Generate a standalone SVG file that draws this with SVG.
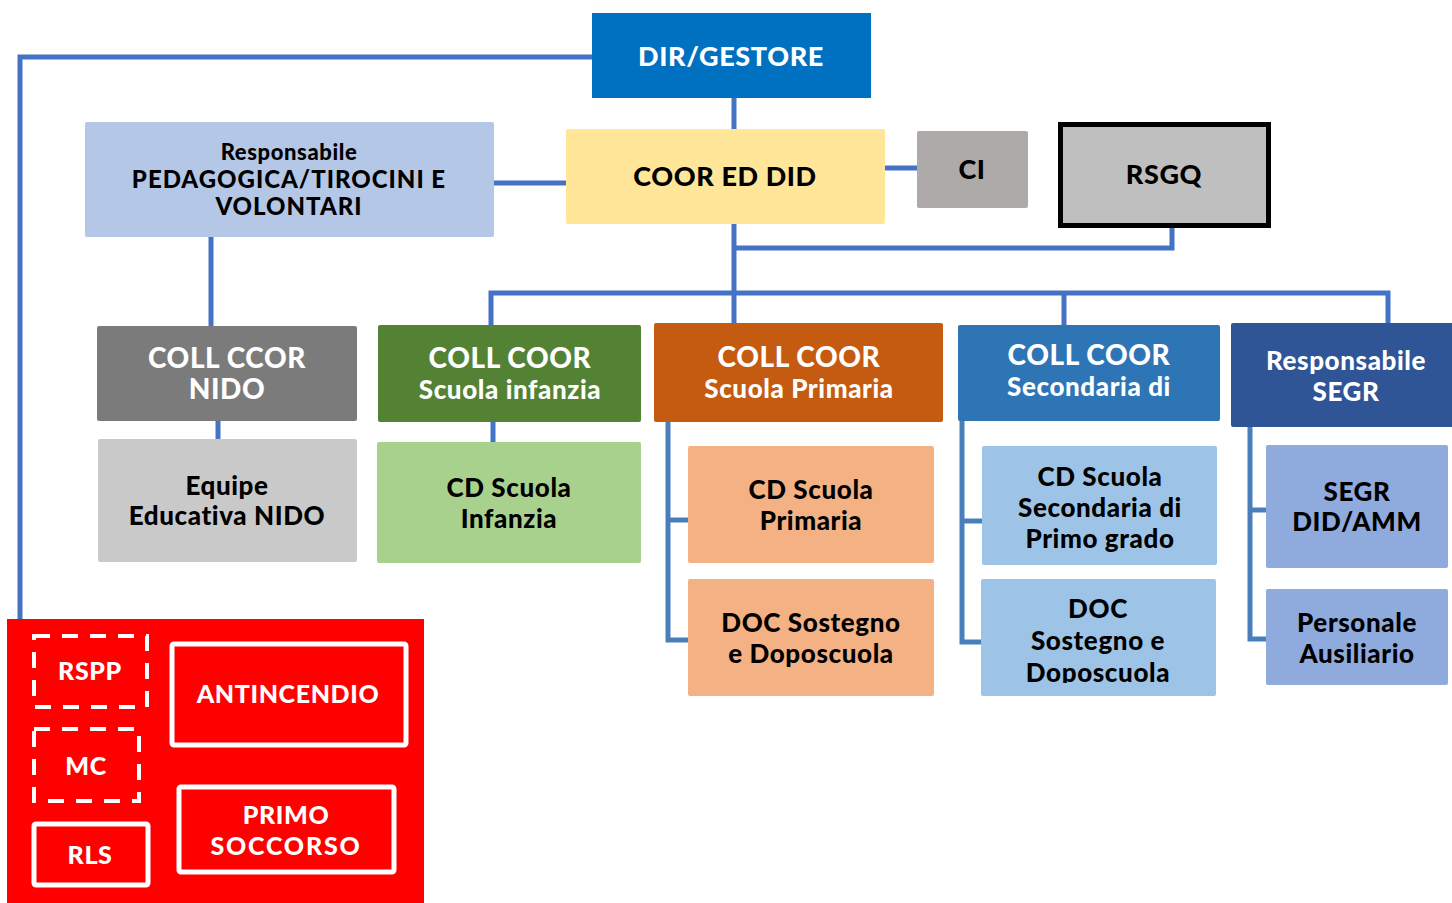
<svg xmlns="http://www.w3.org/2000/svg" width="1452" height="903" viewBox="0 0 1452 903">
<defs>
<style>
text{font-family:Lato,"Open Sans","Liberation Sans",sans-serif;font-weight:900;text-anchor:middle;letter-spacing:0.6px}
.w{fill:#ffffff}
.k{fill:#000000}
.ws{letter-spacing:1px}
.wss{letter-spacing:1.8px}
.ln{fill:none;stroke:#4472C4;stroke-width:5}
.br{fill:none;stroke:#4A7EBB;stroke-width:5}
.sw{fill:none;stroke:#ffffff;stroke-width:5}
.sd{fill:none;stroke:#ffffff;stroke-width:4;stroke-dasharray:16,12}
</style>
<clipPath id="clipDoc"><rect x="981" y="579" width="235" height="104"/></clipPath>
</defs>
<rect width="1452" height="903" fill="#ffffff"/>
<g id="connectors">
<polyline class="ln" points="592,57 20,57 20,620"/>
<line class="ln" x1="734" y1="96" x2="734" y2="131"/>
<line class="ln" x1="494" y1="183" x2="568" y2="183"/>
<line class="ln" x1="885" y1="168" x2="920" y2="168"/>
<polyline class="ln" points="1172,226 1172,248 734,248"/>
<line class="ln" x1="734" y1="224" x2="734" y2="325"/>
<polyline class="ln" points="491,326 491,293 1388,293 1388,324"/>
<line class="ln" x1="1064" y1="293" x2="1064" y2="326"/>
<line class="ln" x1="211" y1="237" x2="211" y2="326"/>
<line class="ln" x1="218" y1="414" x2="218" y2="440"/>
<line class="ln" x1="493" y1="420" x2="493" y2="443"/>
<polyline class="br" points="688,520 668,520"/>
<polyline class="br" points="668,420 668,640 688,640"/>
<polyline class="br" points="982,521 962,521"/>
<polyline class="br" points="962,420 962,642 982,642"/>
<polyline class="br" points="1266,510 1250,510"/>
<polyline class="br" points="1250,426 1250,639 1267,639"/>
</g>
<g id="dir"><rect x="592" y="13" width="279" height="85" fill="#0070C0"/><text class="w" x="731" y="66" font-size="27">DIR/GESTORE</text></g>
<g id="resp-ped"><rect x="85" y="122" width="409" height="115" rx="2" fill="#B4C7E7"/>
<text class="k" x="289" y="160" font-size="22">Responsabile</text>
<text class="k ws" x="289" y="188" font-size="24">PEDAGOGICA/TIROCINI E</text>
<text class="k ws" x="289" y="215" font-size="24">VOLONTARI</text></g>
<g id="coor"><rect x="566" y="129" width="319" height="95" rx="2" fill="#FFE699"/><text class="k" x="725" y="186" font-size="27">COOR ED DID</text></g>
<g id="ci"><rect x="917" y="131" width="111" height="77" rx="2" fill="#AEAAAA"/><text class="k" x="972" y="179" font-size="27">CI</text></g>
<g id="rsgq"><rect x="1060.5" y="124.5" width="208" height="101" fill="#BFBFBF" stroke="#000000" stroke-width="5"/><text class="k" x="1164" y="184" font-size="27">RSGQ</text></g>
<g id="coll-nido"><rect x="97" y="326" width="260" height="95" rx="2" fill="#7B7B7B"/>
<text class="w" x="227" y="368" font-size="28">COLL CCOR</text><text class="w" x="227" y="399" font-size="28">NIDO</text></g>
<g id="equipe"><rect x="98" y="439" width="259" height="123" rx="2" fill="#C9C9C9"/>
<text class="k" x="227" y="495" font-size="26">Equipe</text><text class="k" x="227" y="525" font-size="26">Educativa NIDO</text></g>
<g id="coll-infanzia"><rect x="378" y="325" width="263" height="97" rx="2" fill="#548235"/>
<text class="w" x="510" y="368" font-size="28">COLL COOR</text><text class="w" x="510" y="399" font-size="26">Scuola infanzia</text></g>
<g id="cd-infanzia"><rect x="377" y="442" width="264" height="121" rx="2" fill="#A9D18E"/>
<text class="k" x="509" y="497" font-size="26">CD Scuola</text><text class="k" x="509" y="528" font-size="26">Infanzia</text></g>
<g id="coll-primaria"><rect x="654" y="323" width="289" height="99" rx="2" fill="#C55A11"/>
<text class="w" x="799" y="367" font-size="28">COLL COOR</text><text class="w" x="799" y="398" font-size="26">Scuola Primaria</text></g>
<g id="cd-primaria"><rect x="688" y="446" width="246" height="117" rx="2" fill="#F4B183"/>
<text class="k" x="811" y="499" font-size="26">CD Scuola</text><text class="k" x="811" y="530" font-size="26">Primaria</text></g>
<g id="doc-primaria"><rect x="688" y="579" width="246" height="117" rx="2" fill="#F4B183"/>
<text class="k" x="811" y="632" font-size="26">DOC Sostegno</text><text class="k" x="811" y="663" font-size="26">e Doposcuola</text></g>
<g id="coll-secondaria"><rect x="958" y="325" width="262" height="96" rx="2" fill="#2E75B6"/>
<text class="w" x="1089" y="365" font-size="28">COLL COOR</text><text class="w" x="1089" y="396" font-size="26">Secondaria di</text></g>
<g id="cd-secondaria"><rect x="982" y="446" width="235" height="119" rx="2" fill="#9DC3E6"/>
<text class="k" x="1100" y="486" font-size="26">CD Scuola</text><text class="k" x="1100" y="517" font-size="26">Secondaria di</text><text class="k" x="1100" y="548" font-size="26">Primo grado</text></g>
<g id="doc-secondaria"><rect x="981" y="579" width="235" height="117" rx="2" fill="#9DC3E6"/>
<g clip-path="url(#clipDoc)"><text class="k" x="1098" y="618" font-size="26">DOC</text><text class="k" x="1098" y="650" font-size="26">Sostegno e</text><text class="k" x="1098" y="682" font-size="26">Doposcuola</text></g></g>
<g id="resp-segr"><rect x="1231" y="323" width="225" height="104" rx="2" fill="#2F5597"/>
<text class="w" x="1346" y="370" font-size="26">Responsabile</text><text class="w" x="1346" y="401" font-size="26">SEGR</text></g>
<g id="segr-did"><rect x="1266" y="445" width="182" height="123" rx="2" fill="#8FAADC"/>
<text class="k" x="1357" y="501" font-size="26">SEGR</text><text class="k" x="1357" y="531" font-size="26">DID/AMM</text></g>
<g id="personale"><rect x="1266" y="589" width="182" height="96" rx="2" fill="#8FAADC"/>
<text class="k" x="1357" y="632" font-size="26">Personale</text><text class="k" x="1357" y="663" font-size="26">Ausiliario</text></g>
<g id="sicurezza"><rect x="7" y="619" width="417" height="284" fill="#FF0000"/>
<g id="rspp"><rect class="sd" x="34" y="636" width="113" height="71"/><text class="w" x="90" y="680" font-size="25">RSPP</text></g>
<g id="antincendio"><rect class="sw" x="172" y="644" width="234" height="101" rx="2"/><text class="w" x="288" y="703" font-size="25">ANTINCENDIO</text></g>
<g id="mc"><rect class="sd" x="34" y="729" width="105" height="72"/><text class="w" x="86" y="775" font-size="25">MC</text></g>
<g id="rls"><rect class="sw" x="34" y="824" width="114" height="61" rx="2"/><text class="w" x="90" y="864" font-size="25">RLS</text></g>
<g id="primo"><rect class="sw" x="179" y="787" width="215" height="85" rx="2"/><text class="w" x="286" y="824" font-size="25">PRIMO</text><text class="w wss" x="286" y="855" font-size="25">SOCCORSO</text></g>
</g>
</svg>
